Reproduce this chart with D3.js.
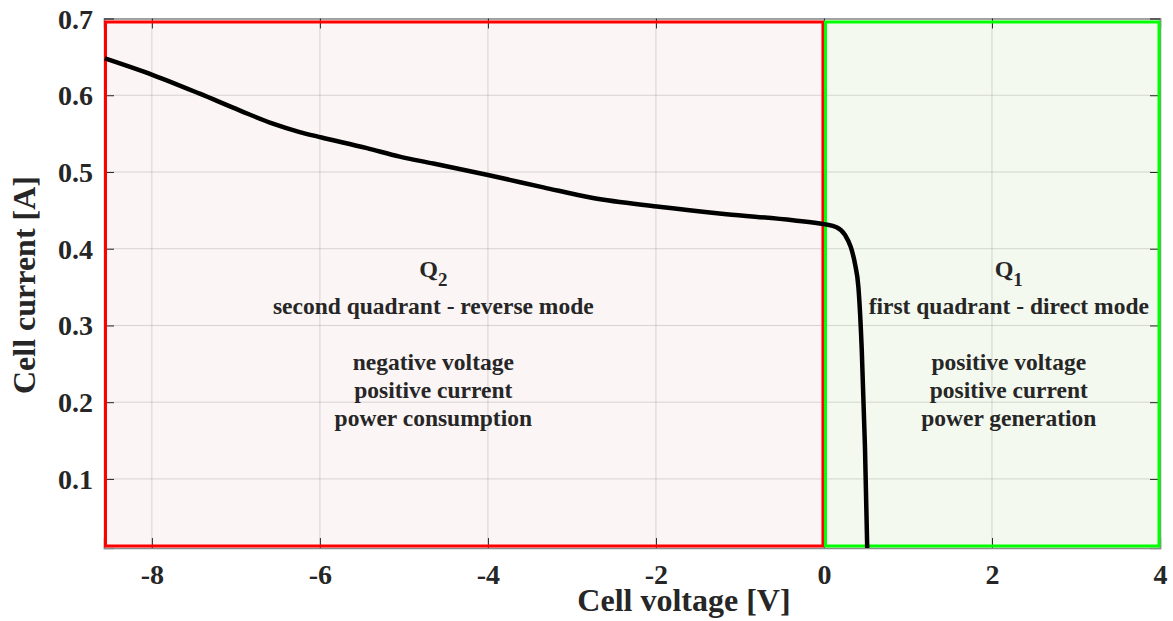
<!DOCTYPE html>
<html>
<head>
<meta charset="utf-8">
<script src="https://cdn.jsdelivr.net/npm/d3@7"></script>
<style>
  body { margin: 0; background: #fff; }
  svg text { font-family: "Liberation Serif", "Times New Roman", serif; font-weight: bold; fill: #262626; }
</style>
</head>
<body>
<svg id="chart" width="1173" height="621"></svg>
<script>
  // curve: cell voltage [V] vs cell current [A]
  var voltage = [-8.56, -7.98, -7.43, -6.95, -6.56, -6.24, -5.98, -5.44, -5.05, -4.65,
                 -4.0, -3.34, -2.75, -1.99, -1.16, -0.37, 0, 0.15, 0.25, 0.32, 0.37, 0.41,
                 0.45, 0.488, 0.515];
  var current = [0.648, 0.626, 0.602, 0.580, 0.563, 0.552, 0.545, 0.531, 0.520, 0.511,
                 0.496, 0.480, 0.466, 0.455, 0.445, 0.437, 0.432, 0.428, 0.418, 0.402, 0.38, 0.35,
                 0.268, 0.142, 0.01];

  var xTicks = [-8, -6, -4, -2, 0, 2, 4];
  var yTicks = [0.1, 0.2, 0.3, 0.4, 0.5, 0.6, 0.7];
  var xDomain = [-8.57, 4];
  var yDomain = [0.01, 0.7];

  var quadrants = [
    { name: "Q", sub: "2", x0: -8.57, x1: 0, lx: -4.65, fill: "#fbf5f5", stroke: "#ff0000",
      lines: ["second quadrant - reverse mode", "", "negative voltage", "positive current", "power consumption"] },
    { name: "Q", sub: "1", x0: 0, x1: 4, lx: 2.2, fill: "#f4f9ef", stroke: "#00ff00",
      lines: ["first quadrant - direct mode", "", "positive voltage", "positive current", "power generation"] }
  ];

  var plotLeft = 104, plotRight = 1160, plotTop = 18.5, plotBottom = 548;

  var svg = d3.select("#chart");
  var x = d3.scaleLinear().domain(xDomain).range([plotLeft, plotRight]);
  var y = d3.scaleLinear().domain(yDomain).range([plotBottom, plotTop]);

  // quadrant fills
  svg.selectAll("rect.fill").data(quadrants).enter().append("rect")
    .attr("class", "fill")
    .attr("x", function(d) { return x(d.x0); })
    .attr("y", plotTop)
    .attr("width", function(d) { return x(d.x1) - x(d.x0); })
    .attr("height", plotBottom - plotTop)
    .style("fill", function(d) { return d.fill; });

  // grid
  svg.append("g").selectAll("line").data(xTicks).enter().append("line")
    .attr("x1", function(d) { return x(d); }).attr("x2", function(d) { return x(d); })
    .attr("y1", plotTop).attr("y2", plotBottom)
    .style("stroke", "#000").style("stroke-opacity", 0.14);
  svg.append("g").selectAll("line").data(yTicks).enter().append("line")
    .attr("y1", function(d) { return y(d); }).attr("y2", function(d) { return y(d); })
    .attr("x1", plotLeft).attr("x2", plotRight)
    .style("stroke", "#000").style("stroke-opacity", 0.14);

  // axes, ticks pointing inward like matlab
  var gx = svg.append("g").attr("transform", "translate(0," + plotBottom + ")")
    .call(d3.axisBottom(x).tickValues(xTicks).tickSize(-10).tickPadding(16)
      .tickFormat(function(d) { return String(d); }));
  var gxTop = svg.append("g").attr("transform", "translate(0," + plotTop + ")")
    .call(d3.axisTop(x).tickValues(xTicks).tickSize(-10).tickFormat(""));
  var gy = svg.append("g").attr("transform", "translate(" + plotLeft + ",0)")
    .call(d3.axisLeft(y).tickValues(yTicks).tickSize(-10).tickPadding(11)
      .tickFormat(function(d) { return d.toFixed(1); }));
  var gyRight = svg.append("g").attr("transform", "translate(" + plotRight + ",0)")
    .call(d3.axisRight(y).tickValues(yTicks).tickSize(-10).tickFormat(""));

  [gx, gxTop, gy, gyRight].forEach(function(g) {
    g.attr("font-family", null).attr("font-size", null);
    g.select(".domain").style("stroke", "#8c8c8c").style("stroke-width", 1.5);
    g.selectAll(".tick line").style("stroke", "#262626");
  });
  gx.selectAll(".tick text").style("font-size", "28px").attr("dy", "0.71em");
  gy.selectAll(".tick text").style("font-size", "28px").attr("dy", "0.34em");

  // quadrant outlines, slightly inset
  svg.selectAll("rect.edge").data(quadrants).enter().append("rect")
    .attr("class", "edge")
    .attr("x", function(d) { return x(d.x0) + 1.5; })
    .attr("y", plotTop + 3.5)
    .attr("width", function(d) { return x(d.x1) - x(d.x0) - 2.5; })
    .attr("height", plotBottom - plotTop - 5.5)
    .style("fill", "none")
    .style("stroke", function(d) { return d.stroke; })
    .style("stroke-width", 3);

  // i-v curve
  var points = voltage.map(function(v, i) { return { v: v, c: current[i] }; });
  var line = d3.line()
    .x(function(d) { return x(d.v); })
    .y(function(d) { return y(d.c); })
    .curve(d3.curveMonotoneX);
  svg.append("path").datum(points)
    .attr("d", line)
    .style("fill", "none").style("stroke", "#000").style("stroke-width", 4.5)
    .style("stroke-linejoin", "round");

  // quadrant annotations
  var qBase = y(0.3637);
  quadrants.forEach(function(q) {
    var t = svg.append("text").attr("x", x(q.lx)).attr("y", qBase)
      .attr("text-anchor", "middle").style("font-size", "24px");
    t.append("tspan").text(q.name);
    t.append("tspan").attr("dy", 9.5).style("font-size", "19px").text(q.sub);

    var block = svg.append("text").attr("x", x(q.lx)).attr("y", qBase + 37)
      .attr("text-anchor", "middle").style("font-size", "23.5px");
    q.lines.forEach(function(s, i) {
      block.append("tspan").attr("x", x(q.lx)).attr("dy", i === 0 ? 0 : 28).text(s === "" ? "\u00a0" : s);
    });
  });

  // axis labels
  svg.append("text").attr("x", 684).attr("y", 611)
    .attr("text-anchor", "middle").style("font-size", "32px").text("Cell voltage [V]");
  svg.append("text").attr("transform", "translate(35," + 285 + ") rotate(-90)")
    .attr("text-anchor", "middle").style("font-size", "32px").text("Cell current [A]");
</script>
</body>
</html>
